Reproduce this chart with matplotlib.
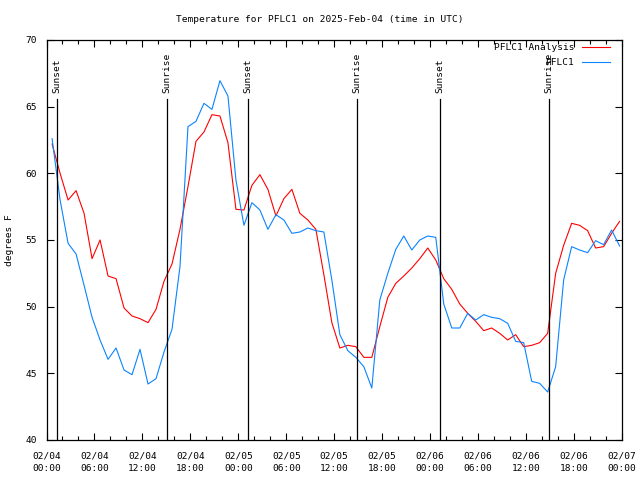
#!/usr/bin/env python3

import pandas as pd
import matplotlib
matplotlib.use("Agg")
import matplotlib.pyplot as plt
import matplotlib.dates as mdates

# hourly observation / analysis times (UTC)
times = pd.date_range(start="2025-02-04 00:42", periods=72, freq="h")

analysis = [
    62.2, 60.0, 58.0, 58.7, 57.0, 53.6, 55.0, 52.3, 52.1, 49.9,
    49.3, 49.1, 48.8, 49.8, 51.9, 53.2, 55.8, 59.0, 62.4, 63.1,
    64.4, 64.3, 62.3, 57.3, 57.25, 59.1, 59.9, 58.8, 56.8, 58.1,
    58.8, 57.0, 56.5, 55.8, 52.4, 48.8, 46.9, 47.1, 47.0, 46.2,
    46.2, 48.5, 50.7, 51.75, 52.3, 52.9, 53.6, 54.4, 53.5, 52.1,
    51.3, 50.2, 49.5, 48.9, 48.2, 48.4, 48.0, 47.5, 47.9, 47.0,
    47.1, 47.3, 48.0, 52.5, 54.6, 56.25, 56.1, 55.7, 54.4, 54.5,
    55.5, 56.4,
]

observed = [
    62.6, 58.0, 54.75, 53.95, 51.6, 49.2, 47.5, 46.05, 46.9, 45.25,
    44.9, 46.8, 44.2, 44.6, 46.6, 48.3, 53.0, 63.5, 63.9, 65.25,
    64.8, 66.95, 65.8, 59.5, 56.1, 57.8, 57.25, 55.8, 56.9, 56.5,
    55.5, 55.6, 55.9, 55.7, 55.6, 52.0, 47.9, 46.7, 46.2, 45.5,
    43.9, 50.5, 52.5, 54.3, 55.3, 54.25, 55.0, 55.3, 55.2, 50.2,
    48.4, 48.4, 49.5, 49.0, 49.4, 49.2, 49.1, 48.75, 47.4, 47.3,
    44.4, 44.25, 43.6, 45.5, 52.0, 54.5, 54.25, 54.05, 54.95, 54.65,
    55.75, 54.55,
]

sun_times = pd.to_datetime([
    "2025-02-04 01:21", "2025-02-04 15:02", "2025-02-05 01:12",
    "2025-02-05 14:51", "2025-02-06 01:15", "2025-02-06 14:51",
])
sun_labels = ["Sunset", "Sunrise", "Sunset", "Sunrise", "Sunset", "Sunrise"]

FONT = "DejaVu Sans Mono"
FS = 6.8

plt.rcParams["font.family"] = FONT
plt.rcParams["font.size"] = FS

fig = plt.figure(figsize=(6.4, 4.8), dpi=100)
ax = fig.add_axes([46.5 / 640, 40 / 480, (622 - 46.5) / 640, 400 / 480])

ax.plot(times, analysis, color="#ff0000", lw=0.8, label="PFLC1 Analysis")
ax.plot(times, observed, color="#0a84ff", lw=0.8, label="PFLC1")

for t, lab in zip(sun_times, sun_labels):
    ax.plot([t, t], [40, 65.6], color="black", lw=0.9)
    ax.text(t, 66.0, lab, rotation=90, ha="center", va="bottom", fontsize=FS)

ax.set_xlim(pd.Timestamp("2025-02-04 00:00"), pd.Timestamp("2025-02-07 00:00"))
ax.set_ylim(40, 70)
ax.set_yticks(range(40, 71, 5))

ax.xaxis.set_major_locator(mdates.HourLocator(byhour=[0, 6, 12, 18]))
ax.xaxis.set_minor_locator(mdates.HourLocator(byhour=range(0, 24, 2)))
ax.xaxis.set_major_formatter(mdates.DateFormatter("%m/%d\n%H:%M"))

ax.tick_params(which="both", direction="in", top=True, right=True,
               width=0.8, labelsize=FS)
ax.tick_params(which="major", length=5)
ax.tick_params(which="minor", length=3)
ax.tick_params(axis="x", pad=8)
ax.tick_params(axis="y", pad=7)
for lbl in ax.get_xticklabels():
    lbl.set_linespacing(1.5)
for s in ax.spines.values():
    s.set_linewidth(0.9)

ax.set_ylabel("degrees F", fontsize=FS)
ax.yaxis.set_label_coords(-(46.5 - 14) / 575.5, 0.5)
fig.text(320 / 640, 1 - 20 / 480, "Temperature for PFLC1 on 2025-Feb-04 (time in UTC)",
         ha="center", va="center", fontsize=FS)

ax.legend(loc="upper right", bbox_to_anchor=(1 - 12 / 575.5, 1 - 3 / 400),
          frameon=False, markerfirst=False, borderaxespad=0, borderpad=0,
          handlelength=3.0, handletextpad=0.8, labelspacing=0.65, fontsize=FS)

fig.savefig("out.png", dpi=100)
